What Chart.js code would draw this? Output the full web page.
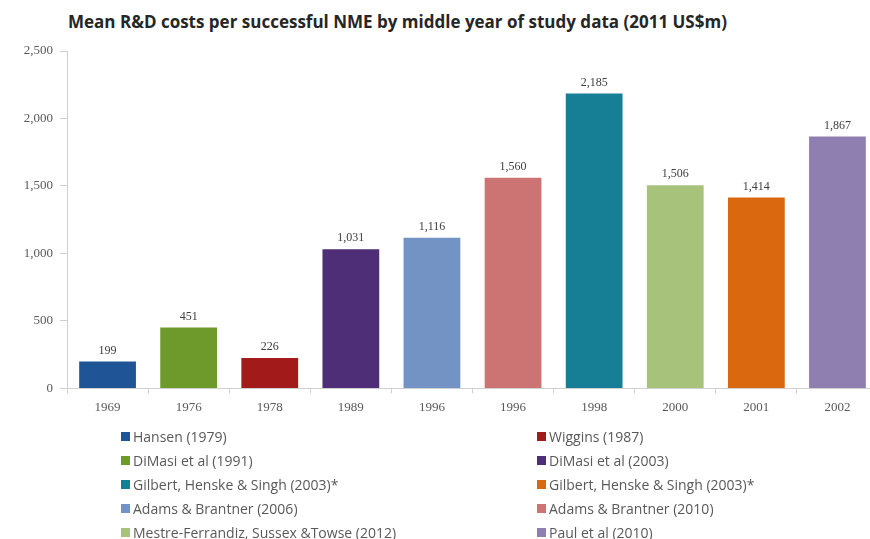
<!DOCTYPE html>
<html>
<head>
<meta charset="utf-8">
<script src="https://cdn.jsdelivr.net/npm/chart.js@4.4.1/dist/chart.umd.min.js"></script>
<style>
  html, body { margin: 0; padding: 0; background: #fff; overflow: hidden; }
  #wrap { position: relative; width: 870px; height: 539px; overflow: hidden; }
  #title {
    position: absolute; left: 68px; top: 10px;
    font: bold 17px "Open Sans", sans-serif; color: #262626; white-space: nowrap;
  }
  #box { position: absolute; left: 0; top: 0; width: 880px; height: 430px; }
  #legend {
    position: absolute; left: 121px; top: 424px;
    display: grid; grid-template-columns: 416px 300px; grid-auto-rows: 24px;
    font: 14px "Open Sans", sans-serif; color: #595959;
  }
  #legend div { display: flex; align-items: center; white-space: nowrap; }
  #legend span.sw { width: 9px; height: 9px; margin-right: 3px; display: inline-block; }
</style>
</head>
<body>
<div id="wrap">
  <div id="title">Mean R&amp;D costs per successful NME by middle year of study data (2011 US$m)</div>
  <div id="box"><canvas id="rdChart"></canvas></div>
  <div id="legend"></div>
</div>
<script>
// Năm giữa của dữ liệu nghiên cứu (trục x)
const years = ['1969', '1976', '1978', '1989', '1996', '1996', '1998', '2000', '2001', '2002'];
// Chi phí R&D trung bình (triệu USD 2011)
const costs = [199, 451, 226, 1031, 1116, 1560, 2185, 1506, 1414, 1867];
// Nghiên cứu tương ứng với từng cột
const studies = [
    'Hansen (1979)',
    'DiMasi et al (1991)',
    'Wiggins (1987)',
    'DiMasi et al (2003)',
    'Adams & Brantner (2006)',
    'Adams & Brantner (2010)',
    'Gilbert, Henske & Singh (2003)*',
    'Mestre-Ferrandiz, Sussex &Towse (2012)',
    'Gilbert, Henske & Singh (2003)*',
    'Paul et al (2010)'
];
const barColors = ['#1f5597', '#6e9a2b', '#a21a1a', '#4e2e77', '#7393c4',
                   '#cb7473', '#167f96', '#a7c27b', '#d9680f', '#8f7fb1'];
// Thứ tự legend (2 cột, đọc theo hàng)
const legendOrder = [0, 2, 1, 3, 6, 8, 4, 5, 7, 9];
const yTicks = [0, 500, 1000, 1500, 2000, 2500];

const axisFont = { family: '"Liberation Serif", serif', size: 13 };

// Vẽ giá trị phía trên mỗi cột
const valueLabels = {
    id: 'valueLabels',
    afterDatasetsDraw(chart) {
        const ctx = chart.ctx;
        const meta = chart.getDatasetMeta(0);
        ctx.save();
        ctx.font = '12px "Liberation Serif", serif';
        ctx.fillStyle = '#404040';
        ctx.textAlign = 'center';
        ctx.textBaseline = 'middle';
        meta.data.forEach((bar, i) => {
            ctx.fillText(costs[i].toLocaleString('en-US'), bar.x, bar.y - 11);
        });
        ctx.restore();
    }
};

new Chart(document.getElementById('rdChart'), {
    type: 'bar',
    data: {
        labels: years,
        datasets: [{
            data: costs,
            backgroundColor: barColors,
            barPercentage: 0.7,
            categoryPercentage: 1
        }]
    },
    options: {
        responsive: true,
        maintainAspectRatio: false,
        animation: false,
        layout: { padding: { top: 51, right: 2, bottom: 9, left: 0 } },
        plugins: {
            legend: { display: false },
            tooltip: { enabled: false }
        },
        scales: {
            x: {
                border: { display: true, color: '#d0d0d0' },
                grid: { drawOnChartArea: false, drawTicks: true, tickLength: 5, color: '#d0d0d0' },
                ticks: { color: '#595959', font: axisFont, padding: 6 }
            },
            y: {
                min: 0,
                max: 2500,
                afterFit(scale) { scale.width = 67; },
                afterBuildTicks(scale) { scale.ticks = yTicks.map(v => ({ value: v })); },
                border: { display: true, color: '#d0d0d0' },
                grid: { drawOnChartArea: false, drawTicks: true, tickLength: 7, color: '#d0d0d0' },
                ticks: {
                    color: '#595959', font: axisFont, padding: 7,
                    callback: v => v.toLocaleString('en-US')
                }
            }
        }
    },
    plugins: [valueLabels]
});

// Legend HTML
const legendEl = document.getElementById('legend');
legendOrder.forEach(i => {
    const item = document.createElement('div');
    const sw = document.createElement('span');
    sw.className = 'sw';
    sw.style.background = barColors[i];
    item.appendChild(sw);
    item.appendChild(document.createTextNode(studies[i]));
    legendEl.appendChild(item);
});
</script>
</body>
</html>
